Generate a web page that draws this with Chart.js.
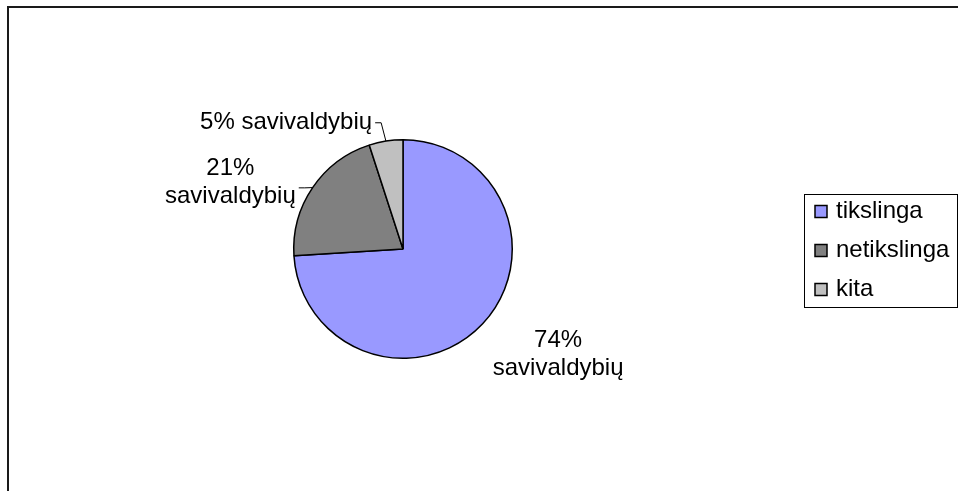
<!DOCTYPE html>
<html>
<head>
<meta charset="utf-8">
<script src="https://cdn.jsdelivr.net/npm/chart.js@4.4.0/dist/chart.umd.min.js"></script>
<style>
  body { margin: 0; background: #fff; }
  canvas { display: block; }
</style>
</head>
<body>
<canvas id="myChart" width="959" height="491"></canvas>
<script>
const categories = ['tikslinga', 'netikslinga', 'kita'];
const shares = [74, 21, 5];
const sliceColors = ['#9999FF', '#808080', '#C0C0C0'];
const unit = 'savivaldybių';

const font = '24px "Liberation Sans", Arial, sans-serif';

// data labels with small leader lines, placed like the original
const labelPlugin = {
  id: 'sliceLabels',
  afterDatasetsDraw(chart) {
    const ctx = chart.ctx;
    const arcs = chart.getDatasetMeta(0).data;
    // offsets of the label centre from the pie centre, as multiples of the radius
    const spots = [
      { dx: 1.42, dy: 0.96, split: true },
      { dx: -1.58, dy: -0.61, split: true, lead: true },
      { dx: -1.07, dy: -1.16, split: false, lead: true }
    ];
    ctx.save();
    ctx.font = font;
    ctx.fillStyle = '#000';
    ctx.textAlign = 'center';
    ctx.textBaseline = 'middle';
    arcs.forEach((arc, i) => {
      const r = arc.outerRadius;
      const cx = arc.x + spots[i].dx * r;
      const cy = arc.y + spots[i].dy * r;
      const pct = shares[i] + '%';
      let endX, endY;
      if (spots[i].split) {
        ctx.fillText(pct, cx, cy - 14);
        ctx.fillText(unit, cx, cy + 14);
        endX = cx + ctx.measureText(unit).width / 2;
        endY = cy + 5;
      } else {
        const t = pct + ' ' + unit;
        ctx.fillText(t, cx, cy);
        endX = cx + ctx.measureText(t).width / 2;
        endY = cy;
      }
      if (spots[i].lead) {
        const mid = (arc.startAngle + arc.endAngle) / 2;
        const ex = arc.x + Math.cos(mid) * r;
        const ey = arc.y + Math.sin(mid) * r;
        ctx.beginPath();
        ctx.strokeStyle = '#000';
        ctx.lineWidth = 1;
        ctx.moveTo(endX + 3, endY + 0.5);
        ctx.lineTo(endX + 9, endY + 0.5);
        ctx.lineTo(ex, ey);
        ctx.stroke();
      }
    });
    ctx.restore();
  }
};

// boxed legend on the right and the outer frame
const legendPlugin = {
  id: 'boxLegend',
  afterDraw(chart) {
    const ctx = chart.ctx;
    ctx.save();
    ctx.strokeStyle = '#1a1a1a';
    ctx.lineWidth = 2;
    ctx.beginPath();
    ctx.moveTo(8, 500);
    ctx.lineTo(8, 7);
    ctx.lineTo(958, 7);
    ctx.stroke();

    ctx.strokeStyle = '#000';
    ctx.lineWidth = 1;
    ctx.strokeRect(804.5, 194.5, 153, 113);
    ctx.font = font;
    ctx.textBaseline = 'middle';
    ctx.textAlign = 'left';
    categories.forEach((c, i) => {
      const y = 211.5 + i * 39;
      ctx.fillStyle = sliceColors[i];
      ctx.fillRect(815, y - 6, 12, 12);
      ctx.lineWidth = 1.5;
      ctx.strokeRect(815, y - 6, 12, 12);
      ctx.fillStyle = '#000';
      ctx.fillText(c, 836, y);
    });
    ctx.restore();
  }
};

new Chart(document.getElementById('myChart'), {
  type: 'pie',
  data: {
    labels: categories,
    datasets: [{
      data: shares,
      backgroundColor: sliceColors,
      borderColor: '#000',
      borderWidth: 1.5
    }]
  },
  options: {
    responsive: false,
    animation: false,
    layout: { padding: { left: 293, right: 446, top: 139, bottom: 132 } },
    plugins: {
      legend: { display: false },
      tooltip: { enabled: false }
    }
  },
  plugins: [labelPlugin, legendPlugin]
});
</script>
</body>
</html>
